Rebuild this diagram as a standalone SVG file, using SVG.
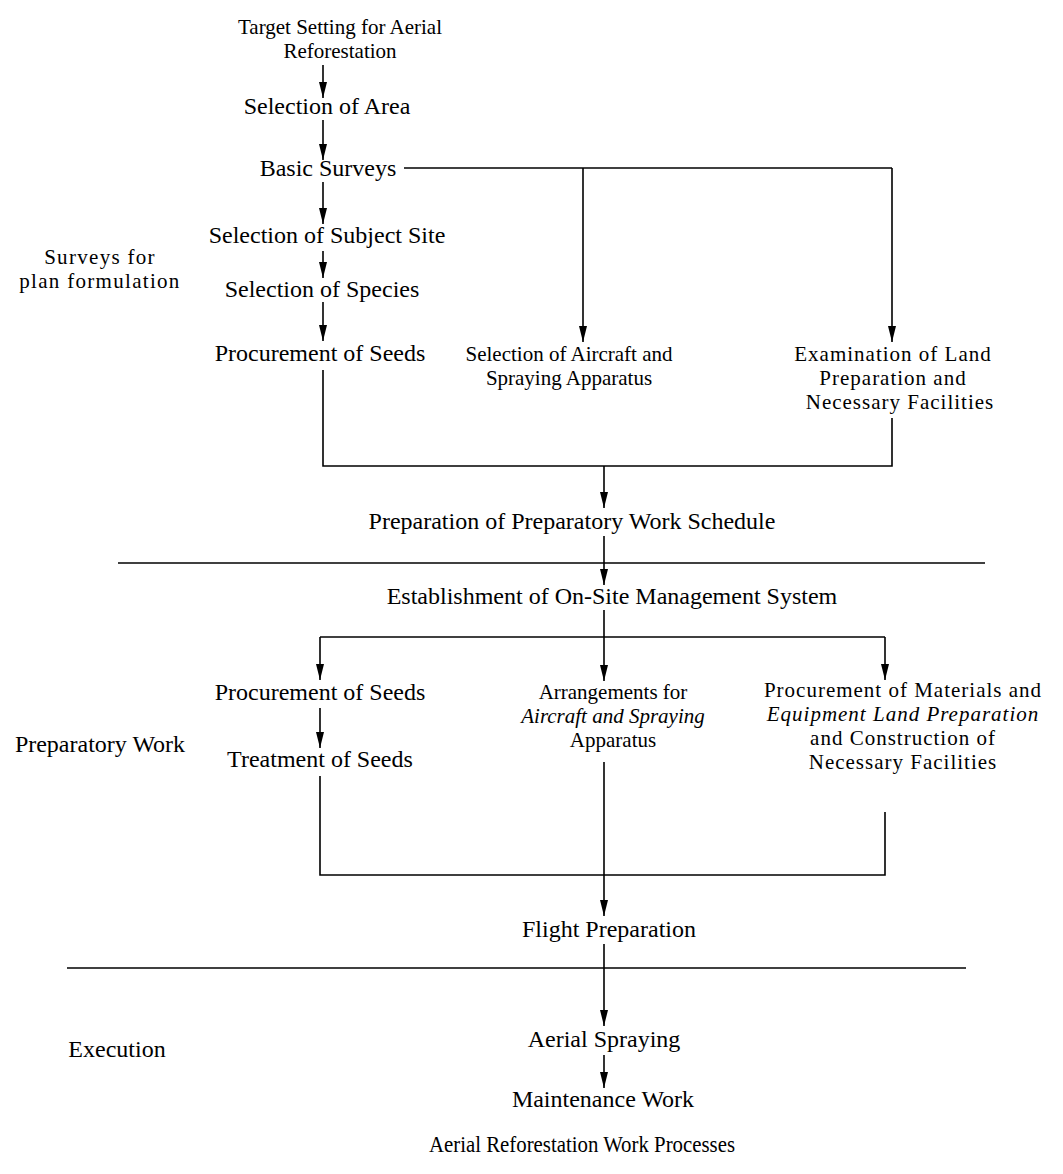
<svg xmlns="http://www.w3.org/2000/svg" width="1063" height="1174" viewBox="0 0 1063 1174">
<defs>
<style>
text{font-family:"Liberation Serif","Times New Roman",serif;font-size:24px;fill:#000;text-anchor:middle}
.m{font-size:21px}
.w{letter-spacing:1px}
.ww{letter-spacing:1.3px}
.it{font-style:italic}
.ln{stroke:#000;stroke-width:1.6;fill:none}
.ar{stroke:#000;stroke-width:1.6;fill:none;marker-end:url(#ah)}
</style>
<marker id="ah" viewBox="0 0 16 8" refX="16" refY="4" markerWidth="16" markerHeight="8" orient="auto" markerUnits="userSpaceOnUse">
<path d="M0,0 L16,4 L0,8 z" fill="#000"/>
</marker>
</defs>
<rect width="1063" height="1174" fill="#fff"/>

<g id="connectors">
<line class="ar" x1="323" y1="65" x2="323" y2="98"/>
<line class="ar" x1="323" y1="120" x2="323" y2="160"/>
<line class="ln" x1="404" y1="168" x2="892" y2="168"/>
<line class="ar" x1="583" y1="168" x2="583" y2="342"/>
<line class="ar" x1="892" y1="168" x2="892" y2="342"/>
<line class="ar" x1="323" y1="182" x2="323" y2="224"/>
<line class="ar" x1="323" y1="251" x2="323" y2="278"/>
<line class="ar" x1="323" y1="302" x2="323" y2="341"/>
<polyline class="ln" points="323,370 323,466 892,466 892,418"/>
<line class="ar" x1="604" y1="466" x2="604" y2="508"/>
<line class="ln" x1="118" y1="563" x2="985" y2="563"/>
<line class="ar" x1="604" y1="536" x2="604" y2="585"/>
<line class="ln" x1="604" y1="610" x2="604" y2="637"/>
<line class="ln" x1="320" y1="637" x2="885" y2="637"/>
<line class="ar" x1="320" y1="637" x2="320" y2="680"/>
<line class="ar" x1="604" y1="637" x2="604" y2="681"/>
<line class="ar" x1="885" y1="637" x2="885" y2="680"/>
<line class="ar" x1="320" y1="708" x2="320" y2="748"/>
<polyline class="ln" points="320,776 320,875 885,875 885,812"/>
<line class="ar" x1="604" y1="762" x2="604" y2="916"/>
<line class="ln" x1="67" y1="968" x2="966" y2="968"/>
<line class="ar" x1="604" y1="944" x2="604" y2="1026"/>
<line class="ar" x1="604" y1="1055" x2="604" y2="1088"/>
</g>

<g id="n-target"><text class="m" x="340" y="34">Target Setting for Aerial</text><text class="m" x="340" y="58">Reforestation</text></g>
<g id="n-area"><text x="327" y="114">Selection of Area</text></g>
<g id="n-basic"><text x="328" y="176">Basic Surveys</text></g>
<g id="n-site"><text x="327" y="243">Selection of Subject Site</text></g>
<g id="n-species"><text x="322" y="297">Selection of Species</text></g>
<g id="n-seeds1"><text x="320" y="361">Procurement of Seeds</text></g>
<g id="n-aircraft1"><text class="m" x="569" y="361">Selection of Aircraft and</text><text class="m" x="569" y="385">Spraying Apparatus</text></g>
<g id="n-land1"><text class="m w" x="893" y="361">Examination of Land</text><text class="m w" x="893" y="385">Preparation and</text><text class="m w" x="900" y="409">Necessary Facilities</text></g>
<g id="lab-surveys"><text class="m ww" x="100" y="264">Surveys for</text><text class="m ww" x="100" y="288">plan formulation</text></g>
<g id="n-schedule"><text x="572" y="529">Preparation of Preparatory Work Schedule</text></g>
<g id="n-mgmt"><text x="612" y="604">Establishment of On-Site Management System</text></g>
<g id="n-seeds2"><text x="320" y="700">Procurement of Seeds</text></g>
<g id="n-treat"><text x="320" y="767">Treatment of Seeds</text></g>
<g id="n-arr"><text class="m" x="613" y="699">Arrangements for</text><text class="m it" x="613" y="723">Aircraft and Spraying</text><text class="m" x="613" y="747">Apparatus</text></g>
<g id="n-mat"><text class="m w" x="903" y="697">Procurement of Materials and</text><text class="m w it" x="903" y="721">Equipment Land Preparation</text><text class="m w" x="903" y="745">and Construction of</text><text class="m w" x="903" y="769">Necessary Facilities</text></g>
<g id="lab-prep"><text x="100" y="752">Preparatory Work</text></g>
<g id="n-flight"><text x="609" y="937">Flight Preparation</text></g>
<g id="n-spray"><text x="604" y="1047">Aerial Spraying</text></g>
<g id="lab-exec"><text x="117" y="1057">Execution</text></g>
<g id="n-maint"><text x="603" y="1107">Maintenance Work</text></g>
<g id="caption"><text x="582" y="1152" textLength="306" lengthAdjust="spacingAndGlyphs">Aerial Reforestation Work Processes</text></g>
</svg>
